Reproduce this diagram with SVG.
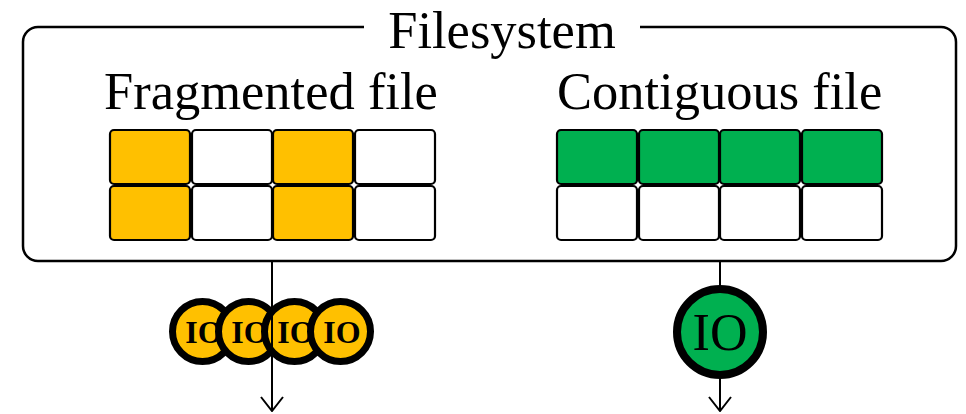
<svg xmlns="http://www.w3.org/2000/svg" width="966" height="414" viewBox="0 0 966 414">
  <defs>
    <style>
      .frame { fill: none; stroke: #000; stroke-width: 2.5; }
      .cell { stroke: #000; stroke-width: 2.2; }
      .yel { fill: #FFC000; }
      .grn { fill: #00B050; }
      .wht { fill: #FFFFFF; }
      .title { font-family: "Liberation Serif", "Times New Roman", serif; font-size: 52.5px; fill: #000; }
      .io-s { fill: #FFC000; stroke: #000; stroke-width: 7; }
      .io-s-t { font-family: "Liberation Serif", "Times New Roman", serif; font-size: 32px; font-weight: bold; fill: #000; text-anchor: middle; }
      .io-l { fill: #00B050; stroke: #000; stroke-width: 8; }
      .io-l-t { font-family: "Liberation Serif", "Times New Roman", serif; font-size: 52px; fill: #000; text-anchor: middle; }
      .conn { fill: none; stroke: #000; stroke-width: 2; }
    </style>
    <!-- open V arrowhead, drawn pointing along +x so orient="auto" follows the line -->
    <marker id="arrow" viewBox="0 0 16 24" refX="15" refY="12" markerWidth="16" markerHeight="24" markerUnits="userSpaceOnUse" orient="auto">
      <path d="M1,1 L15,12 L1,23" fill="none" stroke="#000" stroke-width="2"/>
    </marker>
  </defs>

  <!-- Filesystem container with a gap in the top edge for its title -->
  <g id="filesystem">
    <path class="frame" d="M364,27 H38 A15,15 0 0 0 23,42 V246 A15,15 0 0 0 38,261 H941 A15,15 0 0 0 956,246 V42 A15,15 0 0 0 941,27 H640"/>
    <text class="title" x="502" y="48" text-anchor="middle">Filesystem</text>
  </g>

  <!-- Fragmented file: alternating used / free blocks -->
  <g id="fragmented-file">
    <text class="title" x="104" y="109">Fragmented file</text>
    <rect class="cell yel" x="110" y="130" width="80" height="54" rx="4"/>
    <rect class="cell wht" x="192" y="130" width="80" height="54" rx="4"/>
    <rect class="cell yel" x="273" y="130" width="80" height="54" rx="4"/>
    <rect class="cell wht" x="355" y="130" width="80" height="54" rx="4"/>
    <rect class="cell yel" x="110" y="186" width="80" height="54" rx="4"/>
    <rect class="cell wht" x="192" y="186" width="80" height="54" rx="4"/>
    <rect class="cell yel" x="273" y="186" width="80" height="54" rx="4"/>
    <rect class="cell wht" x="355" y="186" width="80" height="54" rx="4"/>
  </g>

  <!-- Contiguous file: one full row of blocks -->
  <g id="contiguous-file">
    <text class="title" x="557" y="109">Contiguous file</text>
    <rect class="cell grn" x="557" y="130" width="80" height="54" rx="4"/>
    <rect class="cell grn" x="639" y="130" width="80" height="54" rx="4"/>
    <rect class="cell grn" x="720" y="130" width="80" height="54" rx="4"/>
    <rect class="cell grn" x="802" y="130" width="80" height="54" rx="4"/>
    <rect class="cell wht" x="557" y="186" width="80" height="54" rx="4"/>
    <rect class="cell wht" x="639" y="186" width="80" height="54" rx="4"/>
    <rect class="cell wht" x="720" y="186" width="80" height="54" rx="4"/>
    <rect class="cell wht" x="802" y="186" width="80" height="54" rx="4"/>
  </g>

  <!-- Many small IOs for the fragmented file -->
  <g id="io-fragmented">
    <circle class="io-s" cx="202.5" cy="331.5" r="30"/>
    <text class="io-s-t" x="204" y="343">IO</text>
    <circle class="io-s" cx="248.5" cy="331.5" r="30"/>
    <text class="io-s-t" x="250" y="343">IO</text>
    <circle class="io-s" cx="294.5" cy="331.5" r="30"/>
    <text class="io-s-t" x="296" y="343">IO</text>
    <circle class="io-s" cx="340.5" cy="331.5" r="30"/>
    <text class="io-s-t" x="342" y="343">IO</text>
  </g>

  <!-- Connectors -->
  <g id="connectors">
    <line class="conn" x1="272" y1="261" x2="272" y2="411" marker-end="url(#arrow)"/>
    <line class="conn" x1="720" y1="261" x2="720" y2="411" marker-end="url(#arrow)"/>
  </g>

  <!-- Single large IO for the contiguous file -->
  <g id="io-contiguous">
    <circle class="io-l" cx="720" cy="332" r="43"/>
    <text class="io-l-t" x="720" y="350">IO</text>
  </g>
</svg>
